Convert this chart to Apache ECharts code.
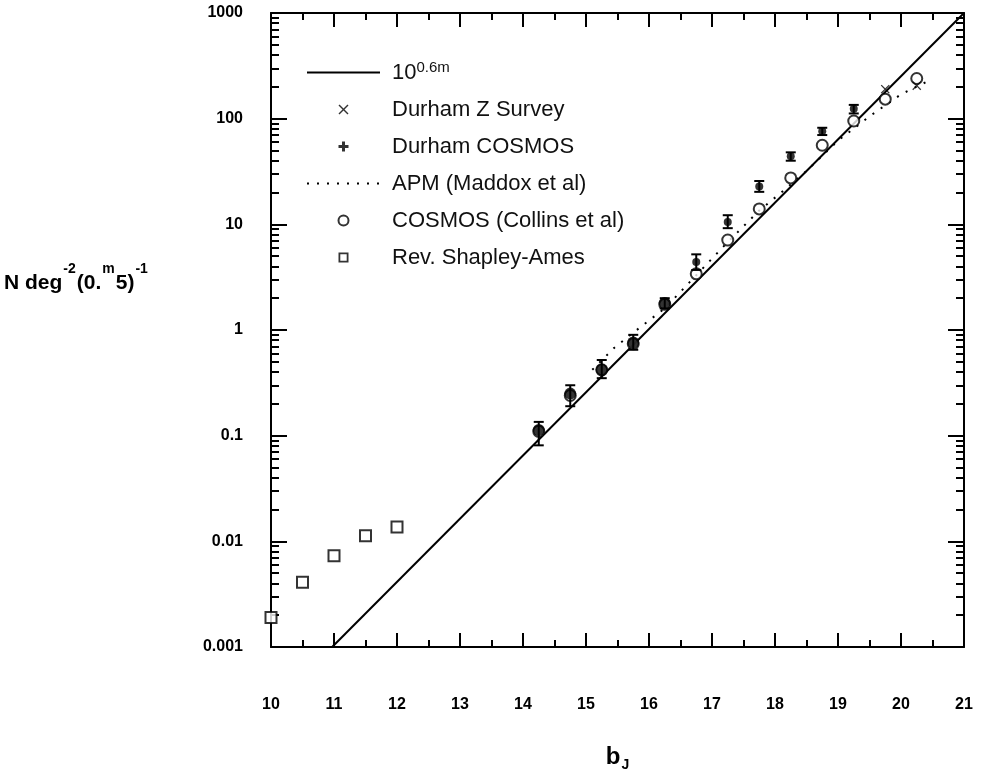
<!DOCTYPE html>
<html>
<head>
<meta charset="utf-8">
<title>Number counts</title>
<script src="https://cdn.jsdelivr.net/npm/echarts@6/dist/echarts.min.js"></script>
<style>
  html, body { margin: 0; padding: 0; background: #fff; }
  #main { width: 987px; height: 780px; }
</style>
</head>
<body>
<div id="main"></div>
<script>
// axis ticks
var xTicks = [10, 11, 12, 13, 14, 15, 16, 17, 18, 19, 20, 21];
var yTicks = ['0.001', '0.01', '0.1', '1', '10', '100', '1000'];

// 10^0.6m reference line, end points
var lineM = [10.97, 21.0];
var lineN = [0.001, 1000];

// Durham COSMOS (with error bars)
var dcM  = [14.25, 14.75, 15.25, 15.75, 16.25, 16.75, 17.25, 17.75, 18.25, 18.75, 19.25];
var dcN  = [0.113, 0.25, 0.42, 0.76, 1.8, 4.4, 10.5, 22.8, 44, 76, 124];
var dcLo = [0.081, 0.19, 0.35, 0.65, 1.6, 3.7, 9.2, 20.3, 40, 70, 112];
var dcHi = [0.135, 0.30, 0.52, 0.90, 2.0, 5.2, 12.2, 25.7, 48, 82, 135];

// Durham Z survey
var dzM = [19.75, 20.25];
var dzN = [190, 205];

// APM (Maddox et al)
var apmM = [15.1, 15.45, 15.85, 16.25, 16.75, 17.25, 17.75, 18.1, 18.5, 19.0, 19.5, 20.0, 20.45];
var apmN = [0.42, 0.68, 1.05, 1.6, 3.3, 6.8, 13.5, 20, 32, 62, 105, 170, 230];

// COSMOS (Collins et al)
var colM = [14.25, 14.75, 15.25, 15.75, 16.25, 16.75, 17.25, 17.75, 18.25, 18.75, 19.25, 19.75, 20.25];
var colN = [0.11, 0.24, 0.42, 0.74, 1.75, 3.4, 7.1, 14, 27.5, 56, 95, 153, 240];

// Rev. Shapley-Ames
var saM = [10.0, 10.5, 11.0, 11.5, 12.0];
var saN = [0.0019, 0.0041, 0.0073, 0.0113, 0.0137];

var FONT = 'Liberation Sans';

function pts(ms, ns) {
    return ms.map(function (m, i) { return [m, Math.log10(ns[i])]; });
}

// log minor tick positions (2..9 in each decade)
var minorVals = [];
for (var d = -3; d < 3; d++) {
    for (var k = 2; k <= 9; k++) minorVals.push(d + Math.log10(k));
}

var errData = dcM.map(function (m, i) {
    return [m, Math.log10(dcLo[i]), Math.log10(dcHi[i])];
});

var crossPath = 'path://M0,1 L1,0 L5,4 L9,0 L10,1 L6,5 L10,9 L9,10 L5,6 L1,10 L0,9 L4,5 Z';
var plusPath = 'path://M3.5,0 H6.5 V3.5 H10 V6.5 H6.5 V10 H3.5 V6.5 H0 V3.5 H3.5 Z';
var squarePath = 'path://M0,0 H10 V10 H0 Z M1.8,1.8 V8.2 H8.2 V1.8 Z';

var frameLine = { show: true, onZero: false, lineStyle: { color: '#000', width: 2 } };

function xAx(pos, showLabel) {
    return {
        type: 'value', position: pos, min: 10, max: 21, interval: 1,
        axisLine: frameLine,
        axisTick: { inside: true, length: 14, lineStyle: { color: '#000', width: 2 } },
        minorTick: { show: true, splitNumber: 2, length: 7, lineStyle: { color: '#000', width: 2 } },
        splitLine: { show: false },
        minorSplitLine: { show: false },
        axisLabel: {
            show: showLabel, margin: 50, color: '#000',
            fontFamily: FONT, fontSize: 16, fontWeight: 'bold',
            formatter: function (v) { return xTicks.indexOf(v) >= 0 ? String(v) : ''; }
        }
    };
}

function yAx(pos, showLabel) {
    return {
        type: 'value', position: pos, min: -3, max: 3, interval: 1,
        axisLine: frameLine,
        axisTick: { inside: true, length: 16, lineStyle: { color: '#000', width: 2 } },
        splitLine: { show: false },
        axisLabel: {
            show: showLabel, margin: 28, color: '#000',
            fontFamily: FONT, fontSize: 16, fontWeight: 'bold',
            formatter: function (v) { return yTicks[Math.round(v) + 3]; }
        }
    };
}

function yMinor(pos) {
    return {
        type: 'value', position: pos, min: -3, max: 3,
        axisLine: { show: false, onZero: false },
        axisTick: { show: true, inside: true, length: 8, customValues: minorVals,
                    lineStyle: { color: '#000', width: 2 } },
        axisLabel: { show: false },
        splitLine: { show: false }
    };
}

var xMain = xAx('bottom', true);
xMain.name = '{b|b}{s|J}';
xMain.nameLocation = 'middle';
xMain.nameGap = 95;
xMain.nameTextStyle = {
    color: '#000',
    rich: {
        b: { fontFamily: FONT, fontSize: 24, fontWeight: 'bold', color: '#000', lineHeight: 30 },
        s: { fontFamily: FONT, fontSize: 14, fontWeight: 'bold', color: '#000', lineHeight: 30,
             padding: [16, 0, 0, 1] }
    }
};

var LINE_NAME = '10^0.6m';
var noSymbol = { opacity: 0 };

var myChart = echarts.init(document.getElementById('main'), null, { renderer: 'canvas' });

var option = {
    backgroundColor: '#fff',
    animation: false,
    grid: { left: 271, right: 23, top: 13, bottom: 133, containLabel: false },
    xAxis: [xMain, xAx('top', false)],
    yAxis: [yAx('left', true), yAx('right', false), yMinor('left'), yMinor('right')],
    legend: {
        orient: 'vertical',
        left: 301, top: 55,
        itemWidth: 73, itemHeight: 10, itemGap: 12,
        selectedMode: false,
        textStyle: {
            fontFamily: FONT, fontSize: 22, color: '#111', lineHeight: 25,
            padding: [0, 0, 0, 7],
            rich: {
                sup: { fontFamily: FONT, fontSize: 15, color: '#111', verticalAlign: 'top', lineHeight: 25,
                       padding: [0, 0, 10, 0] }
            }
        },
        formatter: function (name) {
            return name === LINE_NAME ? '10{sup|0.6m}' : name;
        },
        data: [
            { name: LINE_NAME, itemStyle: noSymbol },
            { name: 'Durham Z Survey', icon: crossPath },
            { name: 'Durham COSMOS', icon: plusPath },
            { name: 'APM (Maddox et al)', itemStyle: noSymbol },
            { name: 'COSMOS (Collins et al)' },
            { name: 'Rev. Shapley-Ames', icon: squarePath, itemStyle: { color: '#000', borderWidth: 0 } }
        ]
    },
    graphic: [{
        type: 'text',
        left: 4, top: 262,
        style: {
            text: '{m|N deg}{s|-2}{m|(0.}{s|m}{m|5)}{s|-1}',
            rich: {
                m: { fontFamily: FONT, fontSize: 21, fontWeight: 'bold', fill: '#000', lineHeight: 32, verticalAlign: 'bottom' },
                s: { fontFamily: FONT, fontSize: 14, fontWeight: 'bold', fill: '#000', lineHeight: 32,
                     verticalAlign: 'top', padding: [0, 1, 12, 1] }
            }
        }
    }],
    series: [
        {
            name: LINE_NAME, type: 'line',
            data: pts(lineM, lineN),
            symbol: 'none', clip: true,
            lineStyle: { color: '#000', width: 2 },
            itemStyle: { color: '#000' },
            z: 2
        },
        {
            name: 'APM (Maddox et al)', type: 'line',
            data: pts(apmM, apmN),
            symbol: 'none', smooth: false,
            lineStyle: { color: '#000', width: 2, type: [2, 8] },
            itemStyle: { color: '#000' },
            z: 2
        },
        {
            name: 'Rev. Shapley-Ames', type: 'scatter',
            data: pts(saM, saN),
            symbol: 'emptyRect', symbolSize: 11,
            itemStyle: { color: '#000', borderColor: '#000', borderWidth: 2 },
            z: 3
        },
        {
            name: 'COSMOS (Collins et al)', type: 'scatter',
            data: pts(colM, colN),
            symbol: 'emptyCircle', symbolSize: 11,
            itemStyle: { color: '#000', borderColor: '#000', borderWidth: 2 },
            z: 3
        },
        {
            name: 'err', type: 'custom',
            encode: { x: 0, y: [1, 2] },
            data: errData,
            renderItem: function (params, api) {
                var x = api.value(0);
                var lo = api.coord([x, api.value(1)]);
                var hi = api.coord([x, api.value(2)]);
                var w = 5;
                var st = { stroke: '#000', lineWidth: 2 };
                return {
                    type: 'group',
                    children: [
                        { type: 'line', shape: { x1: lo[0], y1: lo[1], x2: hi[0], y2: hi[1] }, style: st },
                        { type: 'line', shape: { x1: lo[0] - w, y1: lo[1], x2: lo[0] + w, y2: lo[1] }, style: st },
                        { type: 'line', shape: { x1: hi[0] - w, y1: hi[1], x2: hi[0] + w, y2: hi[1] }, style: st }
                    ]
                };
            },
            z: 4
        },
        {
            name: 'Durham COSMOS', type: 'scatter',
            data: pts(dcM, dcN),
            symbol: 'circle',
            // the bright points overlap the COSMOS circles and print as solid blobs
            symbolSize: function (v) { return v[0] <= 16.3 ? 12 : 8; },
            itemStyle: { color: '#000' },
            z: 5
        },
        {
            name: 'Durham Z Survey', type: 'scatter',
            data: pts(dzM, dzN),
            symbol: crossPath, symbolSize: 9,
            itemStyle: { color: '#000' },
            z: 5
        }
    ]
};

if (option && typeof option === 'object') {
    myChart.setOption(option, true);
}
</script>
</body>
</html>
